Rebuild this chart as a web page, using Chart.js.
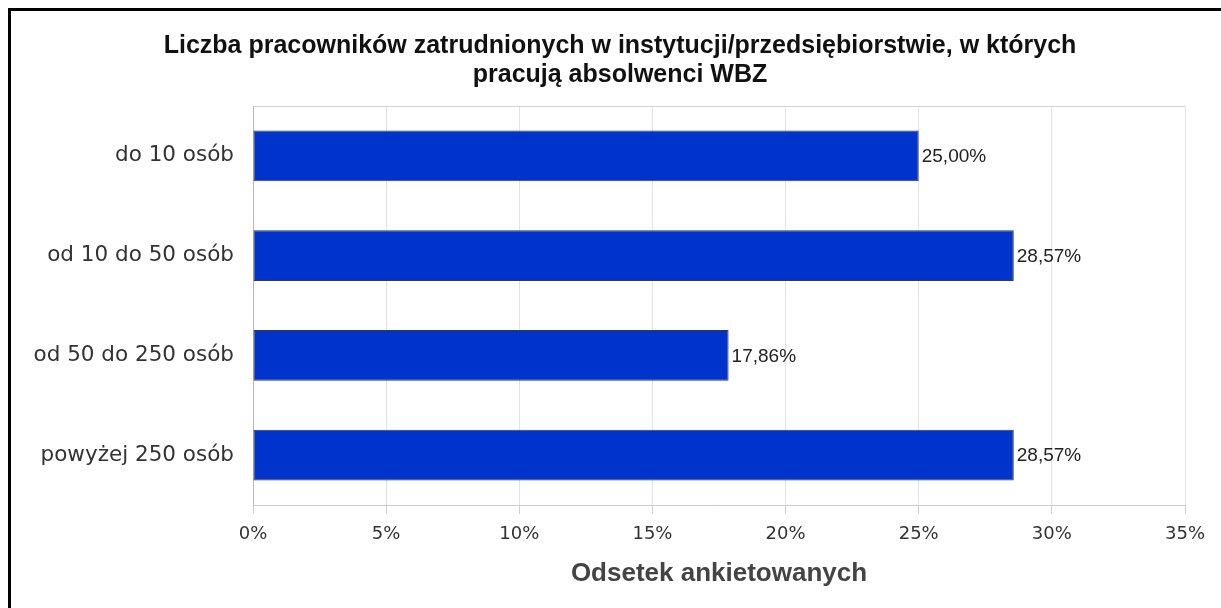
<!DOCTYPE html>
<html>
<head>
<meta charset="utf-8">
<script src="https://cdn.jsdelivr.net/npm/chart.js@4"></script>
<style>
  html, body { margin: 0; padding: 0; background: #fff; }
  #wrap { position: relative; width: 1221px; height: 608px; overflow: hidden; }
  #frame {
    position: absolute; left: 8px; top: 8px; width: 2000px; height: 2000px;
    border-left: 3px solid #000; border-top: 3px solid #000; pointer-events: none;
  }
  canvas { position: absolute; left: 0; top: 0; }
</style>
</head>
<body>
<div id="wrap">
  <canvas id="chart" width="1221" height="608"></canvas>
  <div id="frame"></div>
</div>
<script>
// dane z wykresu
const categories = ['do 10 osób', 'od 10 do 50 osób', 'od 50 do 250 osób', 'powyżej 250 osób'];
const values = [25.00, 28.57, 17.86, 28.57];
const titleLines = ['Liczba pracowników zatrudnionych w instytucji/przedsiębiorstwie, w których', 'pracują absolwenci WBZ'];
const axisTitle = 'Odsetek ankietowanych';

// tytuł (wyśrodkowany względem całej ramki, nie obszaru wykresu)
const titlePlugin = {
    id: 'topTitle',
    afterDraw(chart) {
        const { ctx } = chart;
        ctx.save();
        ctx.font = 'bold 25px "Liberation Sans", Arial, sans-serif';
        ctx.fillStyle = '#111';
        ctx.textAlign = 'center';
        ctx.textBaseline = 'middle';
        titleLines.forEach((line, i) => ctx.fillText(line, 620, 46 + i * 29));
        ctx.restore();
    }
};

// górna linia ramki obszaru wykresu
const boxPlugin = {
    id: 'box',
    beforeDatasetsDraw(chart) {
        const { ctx, chartArea: a } = chart;
        ctx.save();
        ctx.strokeStyle = '#d4d4d4';
        ctx.lineWidth = 1;
        ctx.beginPath();
        ctx.moveTo(a.left, a.top + 0.5);
        ctx.lineTo(a.right, a.top + 0.5);
        ctx.stroke();
        ctx.restore();
    }
};

// etykiety z wartościami przy słupkach
const valueLabels = {
    id: 'valueLabels',
    afterDatasetsDraw(chart) {
        const { ctx } = chart;
        const meta = chart.getDatasetMeta(0);
        ctx.save();
        ctx.font = '19px "Liberation Sans", Arial, sans-serif';
        ctx.fillStyle = '#222';
        ctx.textAlign = 'left';
        ctx.textBaseline = 'middle';
        meta.data.forEach((bar, i) => {
            const txt = values[i].toFixed(2).replace('.', ',') + '%';
            ctx.fillText(txt, bar.x + 3, bar.y + 1);
        });
        ctx.restore();
    }
};

new Chart(document.getElementById('chart'), {
    type: 'bar',
    data: {
        labels: categories,
        datasets: [{
            data: values,
            backgroundColor: '#0033cc',
            borderColor: '#3a3a3a',
            borderWidth: 1,
            borderSkipped: false,
            barPercentage: 0.51,
            categoryPercentage: 1
        }]
    },
    options: {
        indexAxis: 'y',
        responsive: false,
        animation: false,
        layout: { padding: { left: 0, right: 36, top: 106, bottom: 0 } },
        plugins: {
            legend: { display: false },
            tooltip: { enabled: false },
            title: { display: false }
        },
        scales: {
            x: {
                min: 0,
                max: 35,
                afterFit(scale) { scale.height = 103; },
                ticks: {
                    stepSize: 5,
                    padding: 10,
                    color: '#333',
                    font: { family: '"DejaVu Sans", sans-serif', size: 18 },
                    callback: v => v + '%'
                },
                grid: { color: '#e2e2e2', tickColor: '#cfcfcf', tickLength: 9 },
                border: { color: '#cccccc' },
                title: {
                    display: true,
                    text: axisTitle,
                    color: '#444',
                    font: { family: '"Liberation Sans", Arial, sans-serif', size: 26, weight: 'bold', lineHeight: 1.2 },
                    padding: { top: 0, bottom: 19 }
                }
            },
            y: {
                afterFit(scale) { scale.width = 253; },
                ticks: {
                    padding: 19,
                    color: '#333',
                    font: { family: '"DejaVu Sans", sans-serif', size: 21.5 }
                },
                grid: { display: false, drawTicks: false },
                border: { color: '#b8b8b8' }
            }
        }
    },
    plugins: [titlePlugin, boxPlugin, valueLabels]
});
</script>
</body>
</html>
